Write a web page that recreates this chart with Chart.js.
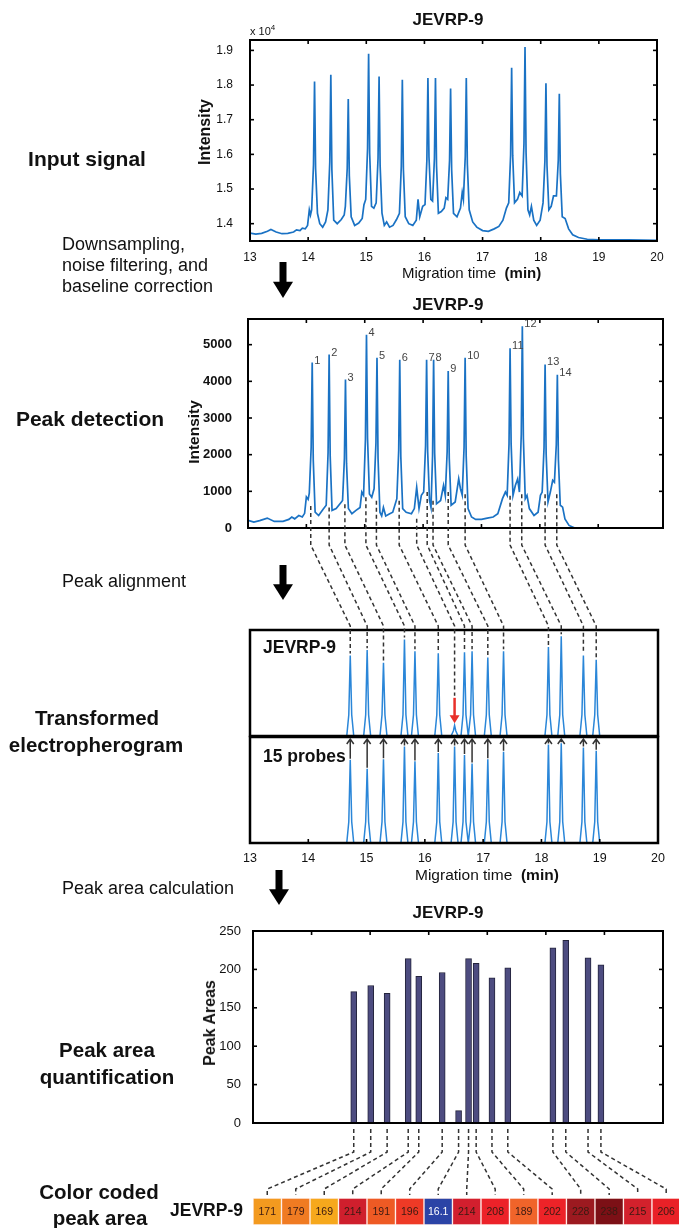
<!DOCTYPE html>
<html>
<head>
<meta charset="utf-8">
<script src="https://cdn.jsdelivr.net/npm/chart.js@4.4.1/dist/chart.umd.min.js"></script>
<style>
body{margin:0;background:#fff;}
#page{position:relative;width:679px;height:1228px;overflow:hidden;font-family:"Liberation Sans",Arial,sans-serif;color:#111;}
canvas{position:absolute;left:0;top:0;}
.t{position:absolute;white-space:pre;line-height:1;}
.c{transform:translate(-50%,-50%);}
.l{transform:translateY(-50%);}
.r{transform:translate(-50%,-50%) rotate(-90deg);}
.b{font-weight:bold;}
</style>
</head>
<body>
<div id="page">
<canvas id="c1" width="679" height="1228"></canvas>
<canvas id="c2" width="679" height="1228"></canvas>
<canvas id="c3a" width="679" height="1228"></canvas>
<canvas id="c3b" width="679" height="1228"></canvas>
<canvas id="c4" width="679" height="1228"></canvas>
<canvas id="c5" width="679" height="1228"></canvas>
<canvas id="ov" width="679" height="1228"></canvas>

<!-- left column labels -->
<div class="t c b" style="left:87px;top:158px;font-size:21px">Input signal</div>
<div class="t l" style="left:62px;top:244px;font-size:18px">Downsampling,</div>
<div class="t l" style="left:62px;top:265px;font-size:18px">noise filtering, and</div>
<div class="t l" style="left:62px;top:286px;font-size:18px">baseline correction</div>
<div class="t c b" style="left:90px;top:418px;font-size:21px">Peak detection</div>
<div class="t l" style="left:62px;top:581px;font-size:18px">Peak alignment</div>
<div class="t c b" style="left:97px;top:718px;font-size:20.5px">Transformed</div>
<div class="t c b" style="left:96px;top:745px;font-size:20.5px">electropherogram</div>
<div class="t l" style="left:62px;top:888px;font-size:18px">Peak area calculation</div>
<div class="t c b" style="left:107px;top:1050px;font-size:20.5px">Peak area</div>
<div class="t c b" style="left:107px;top:1077px;font-size:20.5px">quantification</div>
<div class="t c b" style="left:99px;top:1192px;font-size:20.5px">Color coded</div>
<div class="t c b" style="left:100px;top:1218px;font-size:20.5px">peak area</div>

<!-- chart 1 texts -->
<div class="t c b" style="left:448px;top:19px;font-size:17px">JEVRP-9</div>
<div class="t" style="left:250px;top:24px;font-size:11px">x 10<sup style="font-size:8px;vertical-align:5px">4</sup></div>
<div class="t r b" style="left:205px;top:132px;font-size:16px">Intensity</div>
<div class="t l" style="left:402px;top:272px;font-size:15px">Migration time  <b>(min)</b></div>

<!-- chart 2 texts -->
<div class="t c b" style="left:448px;top:304px;font-size:17px">JEVRP-9</div>
<div class="t r b" style="left:194px;top:432px;font-size:15.5px">Intensity</div>

<!-- chart 3 texts -->
<div class="t l b" style="left:263px;top:648px;font-size:17.5px">JEVRP-9</div>
<div class="t l b" style="left:263px;top:757px;font-size:17.5px">15 probes</div>
<div class="t l" style="left:415px;top:875px;font-size:15.5px">Migration time  <b>(min)</b></div>

<!-- chart 4 texts -->
<div class="t c b" style="left:448px;top:912px;font-size:17px">JEVRP-9</div>
<div class="t r b" style="left:210px;top:1023px;font-size:16px">Peak Areas</div>

<!-- colour row label -->
<div class="t l b" style="left:170px;top:1211px;font-size:17.5px">JEVRP-9</div>
</div>

<script>
// ---- data ----
const timeTicks = [13, 14, 15, 16, 17, 18, 19, 20];
const innerTimeTicks = [14, 15, 16, 17, 18, 19];
const rawTicks = [1.4, 1.5, 1.6, 1.7, 1.8, 1.9];
const detTicks = [0, 1000, 2000, 3000, 4000, 5000];
const areaTicks = [0, 50, 100, 150, 200, 250];

// input signal (x 10^4)
const rawSignal = [
  [13.00,1.373],[13.10,1.370],[13.20,1.372],[13.30,1.378],[13.36,1.383],[13.45,1.376],[13.55,1.371],[13.65,1.372],
  [13.75,1.376],[13.80,1.382],[13.86,1.380],[13.90,1.387],[13.95,1.385],[13.99,1.395],[14.02,1.440],[14.04,1.425],
  [14.06,1.440],[14.092,1.570],[14.11,1.810],[14.128,1.560],[14.16,1.430],[14.20,1.400],[14.25,1.390],[14.30,1.405],
  [14.34,1.440],[14.372,1.577],[14.39,1.830],[14.408,1.557],[14.44,1.410],[14.50,1.400],[14.57,1.412],[14.62,1.425],
  [14.64,1.450],[14.672,1.559],[14.69,1.760],[14.708,1.539],[14.74,1.420],[14.80,1.395],[14.87,1.402],[14.93,1.415],
  [14.96,1.455],[14.99,1.470],[15.022,1.617],[15.04,1.890],[15.058,1.604],[15.09,1.450],[15.13,1.445],[15.17,1.460],
  [15.202,1.588],[15.22,1.825],[15.238,1.568],[15.27,1.430],[15.31,1.395],[15.35,1.405],[15.40,1.390],[15.46,1.395],
  [15.52,1.412],[15.57,1.430],[15.602,1.565],[15.62,1.815],[15.638,1.558],[15.67,1.420],[15.73,1.400],[15.80,1.395],
  [15.86,1.410],[15.89,1.470],[15.92,1.420],[15.97,1.450],[16.01,1.455],[16.042,1.583],[16.06,1.820],[16.078,1.593],
  [16.11,1.470],[16.14,1.465],[16.172,1.589],[16.19,1.820],[16.208,1.567],[16.24,1.430],[16.29,1.435],[16.34,1.445],
  [16.37,1.475],[16.40,1.470],[16.432,1.582],[16.45,1.790],[16.468,1.556],[16.50,1.430],[16.56,1.420],[16.62,1.445],
  [16.65,1.490],[16.67,1.470],[16.702,1.593],[16.72,1.820],[16.738,1.573],[16.77,1.440],[16.83,1.405],[16.90,1.390],
  [17.00,1.380],[17.10,1.378],[17.20,1.385],[17.28,1.392],[17.35,1.410],[17.41,1.445],[17.45,1.460],[17.482,1.597],
  [17.50,1.850],[17.518,1.597],[17.55,1.460],[17.60,1.470],[17.64,1.490],[17.68,1.480],[17.712,1.631],[17.73,1.910],
  [17.748,1.605],[17.78,1.440],[17.81,1.425],[17.84,1.450],[17.88,1.410],[17.93,1.395],[17.99,1.410],[18.04,1.460],
  [18.072,1.581],[18.09,1.805],[18.108,1.568],[18.14,1.440],[18.18,1.450],[18.22,1.480],[18.27,1.480],[18.302,1.583],
  [18.32,1.775],[18.338,1.544],[18.37,1.420],[18.42,1.415],[18.48,1.385],[18.55,1.368],[18.65,1.360],[18.80,1.355],
  [19.00,1.353],[19.50,1.353],[20.00,1.352]
];

// filtered / baseline corrected signal
const detSignal = [
  [13.00,210],[13.10,160],[13.20,200],[13.33,270],[13.45,180],[13.60,180],[13.70,235],[13.75,300],[13.80,250],
  [13.87,340],[13.93,300],[13.97,400],[14.00,850],[14.03,780],[14.05,950],[14.082,2196],[14.10,4510],[14.118,1858],
  [14.15,430],[14.21,340],[14.29,520],[14.34,620],[14.372,2059],[14.39,4730],[14.408,1968],[14.44,480],[14.51,530],
  [14.59,690],[14.62,750],[14.652,1905],[14.67,4050],[14.688,1762],[14.72,530],[14.78,390],[14.85,480],[14.92,560],
  [14.95,980],[14.98,890],[15.012,2423],[15.03,5270],[15.048,2449],[15.08,930],[15.12,840],[15.16,1070],[15.192,2320],
  [15.21,4640],[15.228,1904],[15.26,430],[15.29,330],[15.32,560],[15.36,330],[15.42,380],[15.48,430],[15.55,800],
  [15.582,2127],[15.60,4590],[15.618,1951],[15.65,530],[15.71,430],[15.80,390],[15.85,530],[15.89,1110],[15.93,530],
  [15.97,890],[16.01,980],[16.042,2244],[16.06,4590],[16.078,2094],[16.11,750],[16.135,560],[16.162,1971],[16.18,4590],
  [16.198,2036],[16.23,660],[16.30,750],[16.35,1160],[16.38,890],[16.412,2077],[16.43,4280],[16.448,1901],[16.48,620],
  [16.55,710],[16.61,1340],[16.64,1070],[16.67,900],[16.702,2209],[16.72,4640],[16.738,1969],[16.77,530],[16.83,300],
  [16.90,235],[17.00,235],[17.10,270],[17.20,300],[17.28,390],[17.36,800],[17.41,980],[17.44,890],[17.472,2294],
  [17.49,4900],[17.508,2294],[17.54,890],[17.58,1160],[17.62,1340],[17.65,980],[17.682,2562],[17.70,5500],[17.718,2445],
  [17.75,800],[17.78,890],[17.82,530],[17.90,340],[17.97,430],[18.01,890],[18.04,980],[18.072,2198],[18.09,4460],
  [18.108,2023],[18.14,710],[18.18,980],[18.22,1300],[18.25,1250],[18.282,2276],[18.30,4180],[18.318,1866],[18.35,620],
  [18.39,570],[18.43,250],[18.50,70],[18.60,0],[20.11,0]
];

// numbered peaks in the detection panel
const peakTimes = [14.10,14.39,14.67,15.03,15.21,15.60,16.06,16.18,16.43,16.72,17.49,17.70,18.09,18.30];
const peakHeights = [4510,4730,4050,5270,4640,4590,4590,4590,4280,4640,4900,5500,4460,4180];

// detected peak positions (15, incl. the small one) and where the dashed guides start
const detTimes = [14.075,14.39,14.66,15.02,15.20,15.59,15.89,16.07,16.17,16.43,16.72,17.49,17.69,18.09,18.29];
const detBase = [600,560,650,840,740,740,250,980,740,980,920,880,920,920,920];

// aligned positions of the 15 probes
const alignTimes = [14.72,15.01,15.29,15.65,15.83,16.23,16.51,16.68,16.81,17.08,17.35,18.12,18.34,18.72,18.94];
const sampleHeights = [0.76,0.81,0.69,0.91,0.80,0.78,0.10,0.79,0.80,0.74,0.80,0.84,0.94,0.76,0.72];
const probeHeights = [0.785,0.70,0.79,0.91,0.77,0.85,0.91,0.83,0.75,0.79,0.86,0.93,0.94,0.90,0.87];

// transformed electropherograms
const sampleTrace = [
  [13,0],
  [14.66,0],[14.695,0.2],[14.72,0.76],[14.745,0.2],[14.78,0],
  [14.95,0],[14.985,0.2],[15.01,0.81],[15.035,0.2],[15.07,0],
  [15.23,0],[15.265,0.2],[15.29,0.69],[15.315,0.2],[15.35,0],
  [15.59,0],[15.625,0.2],[15.65,0.91],[15.675,0.2],[15.71,0],
  [15.77,0],[15.805,0.2],[15.83,0.80],[15.855,0.2],[15.89,0],
  [16.17,0],[16.205,0.2],[16.23,0.78],[16.255,0.2],[16.29,0],
  [16.45,0],[16.49,0.05],[16.51,0.10],[16.53,0.05],[16.57,0],
  [16.62,0],[16.655,0.2],[16.68,0.79],[16.705,0.2],[16.745,0],
  [16.75,0],[16.785,0.2],[16.81,0.80],[16.835,0.2],[16.87,0],
  [17.02,0],[17.055,0.2],[17.08,0.74],[17.105,0.2],[17.14,0],
  [17.29,0],[17.325,0.2],[17.35,0.80],[17.375,0.2],[17.41,0],
  [18.06,0],[18.095,0.2],[18.12,0.84],[18.145,0.2],[18.18,0],
  [18.28,0],[18.315,0.2],[18.34,0.94],[18.365,0.2],[18.40,0],
  [18.66,0],[18.695,0.2],[18.72,0.76],[18.745,0.2],[18.78,0],
  [18.88,0],[18.915,0.2],[18.94,0.72],[18.965,0.2],[19.00,0],
  [20,0]
];
const probeTrace = [
  [13,0],
  [14.66,0],[14.695,0.2],[14.72,0.785],[14.745,0.2],[14.78,0],
  [14.95,0],[14.985,0.2],[15.01,0.70],[15.035,0.2],[15.07,0],
  [15.23,0],[15.265,0.2],[15.29,0.79],[15.315,0.2],[15.35,0],
  [15.59,0],[15.625,0.2],[15.65,0.91],[15.675,0.2],[15.71,0],
  [15.77,0],[15.805,0.2],[15.83,0.77],[15.855,0.2],[15.89,0],
  [16.17,0],[16.205,0.2],[16.23,0.85],[16.255,0.2],[16.29,0],
  [16.45,0],[16.485,0.2],[16.51,0.91],[16.535,0.2],[16.57,0],
  [16.62,0],[16.655,0.2],[16.68,0.83],[16.705,0.2],[16.745,0],
  [16.75,0],[16.785,0.2],[16.81,0.75],[16.835,0.2],[16.87,0],
  [17.02,0],[17.055,0.2],[17.08,0.79],[17.105,0.2],[17.14,0],
  [17.29,0],[17.325,0.2],[17.35,0.86],[17.375,0.2],[17.41,0],
  [18.06,0],[18.095,0.2],[18.12,0.93],[18.145,0.2],[18.18,0],
  [18.28,0],[18.315,0.2],[18.34,0.94],[18.365,0.2],[18.40,0],
  [18.66,0],[18.695,0.2],[18.72,0.90],[18.745,0.2],[18.78,0],
  [18.88,0],[18.915,0.2],[18.94,0.87],[18.965,0.2],[19.00,0],
  [20,0]
];

// peak areas
const barTimes = alignTimes;
const barValues = [171,179,169,214,191,196,16.1,214,208,189,202,228,238,215,206];
const cellColors = ['#f39a1f','#f07b22','#f6a81c','#cf1f2d','#ee5a24','#ee3a26','#2b44a6','#d21f2e',
                    '#ec2229','#f0642a','#ed2328','#9c1a20','#7c1016','#d3212c','#e92127'];

// ---- drawing ----
Chart.defaults.font.family = '"Liberation Sans", Arial, sans-serif';
Chart.defaults.color = '#111';
const blue = '#1a72c4';

const boxPlugin = {
  id: 'box',
  afterDraw(chart, args, o) {
    const {ctx, chartArea: a, scales} = chart;
    ctx.save();
    ctx.strokeStyle = '#000';
    ctx.lineWidth = o.lw || 2;
    ctx.strokeRect(a.left, a.top, a.right - a.left, a.bottom - a.top);
    ctx.lineWidth = 1.6;
    const seg = (x1, y1, x2, y2) => { ctx.beginPath(); ctx.moveTo(x1, y1); ctx.lineTo(x2, y2); ctx.stroke(); };
    (o.xt || []).forEach(v => {
      const x = scales.x.getPixelForValue(v);
      if (o.top) seg(x, a.top, x, a.top + 4);
      if (o.bottom) seg(x, a.bottom, x, a.bottom - 4);
    });
    (o.yt || []).forEach(v => {
      const y = scales.y.getPixelForValue(v);
      if (o.left) seg(a.left, y, a.left + 4, y);
      if (o.right) seg(a.right, y, a.right - 4, y);
    });
    ctx.restore();
  }
};

const setTicks = arr => s => { s.ticks = arr.map(v => ({value: v})); };
const common = {responsive: false, animation: false, events: []};
const noLegend = {legend: {display: false}, tooltip: {enabled: false}};
const pts = arr => arr.map(p => ({x: p[0], y: p[1]}));

// input signal
const c1 = new Chart('c1', {
  type: 'line',
  data: {datasets: [{data: pts(rawSignal), borderColor: blue, borderWidth: 1.7, pointRadius: 0, tension: 0}]},
  options: {
    ...common,
    layout: {padding: {left: 0, right: 22, top: 40, bottom: 947}},
    scales: {
      x: {type: 'linear', min: 13, max: 20, grid: {display: false}, border: {display: false},
          ticks: {padding: 1, font: {size: 12}, autoSkip: false, maxRotation: 0, callback: v => String(v)},
          afterBuildTicks: setTicks(timeTicks), afterFit: s => { s.height = 40; }},
      y: {min: 1.35, max: 1.93, grid: {display: false}, border: {display: false},
          ticks: {padding: 9, font: {size: 12}, callback: v => v.toFixed(1)},
          afterBuildTicks: setTicks(rawTicks), afterFit: s => { s.width = 250; }}
    },
    plugins: {...noLegend, box: {xt: innerTimeTicks, yt: rawTicks, top: true, bottom: true, left: true, right: true}}
  },
  plugins: [boxPlugin]
});

// peak detection
const peakLabels = {
  id: 'peakLabels',
  afterDatasetsDraw(chart) {
    const {ctx, scales} = chart;
    ctx.save();
    ctx.font = '11px "Liberation Sans", Arial, sans-serif';
    ctx.fillStyle = '#444';
    ctx.textBaseline = 'middle';
    peakTimes.forEach((t, i) => {
      ctx.fillText(String(i + 1), scales.x.getPixelForValue(t) + 2, scales.y.getPixelForValue(peakHeights[i]) - 2);
    });
    ctx.restore();
  }
};
const c2 = new Chart('c2', {
  type: 'line',
  data: {datasets: [{data: pts(detSignal), borderColor: blue, borderWidth: 1.7, pointRadius: 0, tension: 0}]},
  options: {
    ...common,
    layout: {padding: {left: 0, right: 16, top: 319, bottom: 1228 - 528}},
    scales: {
      x: {type: 'linear', min: 13, max: 20.11, display: false},
      y: {min: 0, max: 5700, grid: {display: false}, border: {display: false},
          ticks: {padding: 8, font: {size: 13, weight: 'bold'}, callback: v => String(v)},
          afterBuildTicks: setTicks(detTicks), afterFit: s => { s.width = 248; }}
    },
    plugins: {...noLegend, box: {xt: innerTimeTicks, yt: detTicks.slice(1), top: true, bottom: true, left: true, right: true}}
  },
  plugins: [boxPlugin, peakLabels]
});

// transformed electropherograms
const c3a = new Chart('c3a', {
  type: 'line',
  data: {datasets: [{data: pts(sampleTrace), borderColor: '#2a86d8', borderWidth: 1.5, pointRadius: 0, tension: 0}]},
  options: {
    ...common,
    layout: {padding: {left: 250, right: 21, top: 630, bottom: 1228 - 736}},
    scales: {
      x: {type: 'linear', min: 13, max: 20, display: false},
      y: {min: 0, max: 1, display: false}
    },
    plugins: {...noLegend, box: {lw: 2.5}}
  },
  plugins: [boxPlugin]
});
const c3b = new Chart('c3b', {
  type: 'line',
  data: {datasets: [{data: pts(probeTrace), borderColor: '#2a86d8', borderWidth: 1.5, pointRadius: 0, tension: 0}]},
  options: {
    ...common,
    layout: {padding: {left: 250, right: 21, top: 737, bottom: 1228 - 843 - 40}},
    scales: {
      x: {type: 'linear', min: 13, max: 20, grid: {display: false}, border: {display: false},
          ticks: {padding: 0, font: {size: 12.5}, autoSkip: false, maxRotation: 0, callback: v => String(v)},
          afterBuildTicks: setTicks(timeTicks), afterFit: s => { s.height = 40; }},
      y: {min: 0, max: 1, display: false}
    },
    plugins: {...noLegend, box: {lw: 2.5, xt: innerTimeTicks, bottom: true}}
  },
  plugins: [boxPlugin]
});

// peak areas
const c4 = new Chart('c4', {
  type: 'bar',
  data: {datasets: [{data: barTimes.map((t, i) => ({x: t, y: barValues[i]})),
    backgroundColor: '#4d4c80', borderColor: '#24243c', borderWidth: 1, barThickness: 6, borderSkipped: false}]},
  options: {
    ...common,
    layout: {padding: {left: 0, right: 16, top: 931, bottom: 1228 - 1123}},
    scales: {
      x: {type: 'linear', min: 13, max: 20, offset: false, display: false},
      y: {min: 0, max: 250, grid: {display: false}, border: {display: false},
          ticks: {padding: 4, font: {size: 13}},
          afterBuildTicks: setTicks(areaTicks), afterFit: s => { s.width = 253; }}
    },
    plugins: {...noLegend, box: {xt: innerTimeTicks, yt: areaTicks.slice(1, 5), top: true, left: true, right: true}}
  },
  plugins: [boxPlugin]
});

// colour coded cells
const cellText = {
  id: 'cellText',
  afterDatasetsDraw(chart) {
    const ctx = chart.ctx;
    ctx.save();
    ctx.font = '10.5px "Liberation Sans", Arial, sans-serif';
    ctx.textAlign = 'center';
    ctx.textBaseline = 'middle';
    chart.data.datasets.forEach((d, i) => {
      const el = chart.getDatasetMeta(i).data[0];
      ctx.fillStyle = barValues[i] < 100 ? '#fff' : '#3a1a12';
      ctx.fillText(String(barValues[i]), (el.x + el.base) / 2, el.y + 1);
    });
    ctx.restore();
  }
};
const c5 = new Chart('c5', {
  type: 'bar',
  data: {labels: ['JEVRP-9'], datasets: barValues.map((v, i) => ({
    data: [1], backgroundColor: cellColors[i], borderColor: 'rgba(255,235,230,0.85)', borderWidth: 1,
    borderSkipped: false, barPercentage: 1, categoryPercentage: 1}))},
  options: {
    ...common,
    indexAxis: 'y',
    layout: {padding: {left: 253, right: 0, top: 1198, bottom: 1228 - 1225}},
    scales: {
      x: {type: 'linear', stacked: true, min: 0, max: 14.95, display: false, offset: false},
      y: {stacked: true, display: false}
    },
    plugins: {...noLegend}
  },
  plugins: [cellText]
});

// ---- connectors, arrows ----
const o = document.getElementById('ov').getContext('2d');
function bigArrow(cx, top, bottom) {
  o.fillStyle = '#000';
  o.fillRect(cx - 3.5, top, 7, (bottom - top) * 0.58);
  o.beginPath();
  o.moveTo(cx - 10, top + (bottom - top) * 0.55);
  o.lineTo(cx + 10, top + (bottom - top) * 0.55);
  o.lineTo(cx, bottom);
  o.closePath();
  o.fill();
}
bigArrow(283, 262, 298);
bigArrow(283, 565, 600);
bigArrow(279, 870, 905);

o.strokeStyle = '#333';
o.lineWidth = 1.5;
o.setLineDash([4, 3]);
const redIdx = 6;
const redFrom = 0.36, redTo = 0.12;
detTimes.forEach((t, i) => {
  const x2 = c2.scales.x.getPixelForValue(t);
  const y2 = c2.scales.y.getPixelForValue(detBase[i]);
  const x3 = c3a.scales.x.getPixelForValue(alignTimes[i]);
  const y3 = c3a.scales.y.getPixelForValue(i === redIdx ? redFrom : sampleHeights[i]) - 2;
  o.beginPath();
  o.moveTo(x2, y2);
  o.lineTo(x2, 545);
  o.lineTo(x3, 626);
  o.lineTo(x3, y3);
  o.stroke();
});
barTimes.forEach((t, i) => {
  const xb = c4.scales.x.getPixelForValue(t);
  const xc = c5.scales.x.getPixelForValue(i + 0.5);
  o.beginPath();
  o.moveTo(xb, 1129);
  o.lineTo(xb, 1152);
  o.lineTo(xc, 1189);
  o.lineTo(xc, 1195);
  o.stroke();
});
o.setLineDash([]);

// probe arrows pointing up
o.strokeStyle = '#333';
o.lineWidth = 1.5;
alignTimes.forEach((t, i) => {
  const x = c3b.scales.x.getPixelForValue(t);
  const y0 = c3b.scales.y.getPixelForValue(probeHeights[i]) - 1;
  const y1 = 739;
  o.beginPath();
  o.moveTo(x, y0); o.lineTo(x, y1);
  o.moveTo(x - 3.5, y1 + 5); o.lineTo(x, y1); o.lineTo(x + 3.5, y1 + 5);
  o.stroke();
});

// red arrow at the missing peak
{
  const x = c3a.scales.x.getPixelForValue(alignTimes[redIdx]);
  const ya = c3a.scales.y.getPixelForValue(redFrom);
  const yb = c3a.scales.y.getPixelForValue(redTo);
  o.strokeStyle = '#e8302a';
  o.fillStyle = '#e8302a';
  o.lineWidth = 2.5;
  o.beginPath(); o.moveTo(x, ya); o.lineTo(x, yb - 7); o.stroke();
  o.beginPath(); o.moveTo(x - 5, yb - 8); o.lineTo(x + 5, yb - 8); o.lineTo(x, yb); o.closePath(); o.fill();
}
</script>
</body>
</html>
